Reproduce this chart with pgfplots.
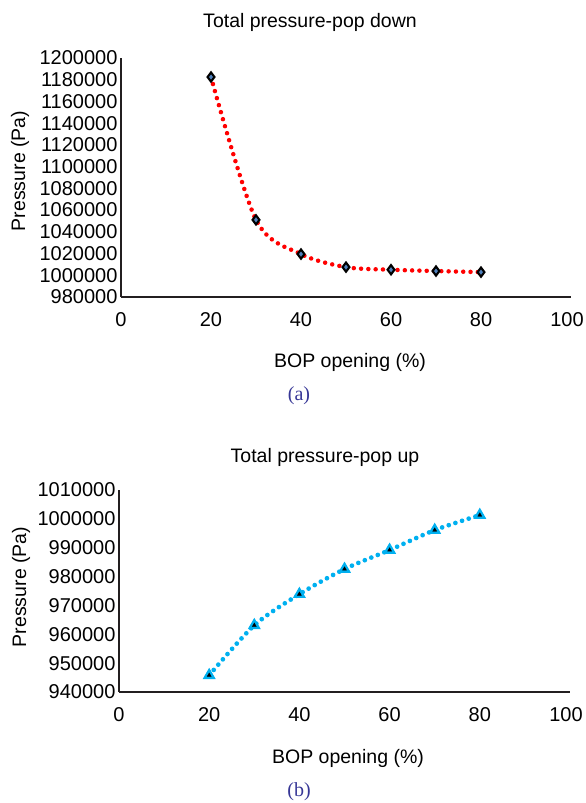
\documentclass[border=0pt]{standalone}
\usepackage{pgfplots}
\pgfplotsset{compat=1.18}
\usepackage{fontspec}
\setmainfont{Liberation Sans}
\newfontfamily\capfont{Liberation Serif}
\definecolor{redline}{RGB}{255,0,0}
\definecolor{blueline}{RGB}{0,176,240}
\definecolor{markfill}{RGB}{79,129,189}
\definecolor{axisc}{RGB}{35,31,32}
\definecolor{capc}{RGB}{55,55,150}
\newcommand{\lf}{\fontsize{19.5}{21}\selectfont}
\newcommand{\tf}{\fontsize{20}{21}\selectfont}
\begin{document}
\begin{tikzpicture}
\path[use as bounding box] (0pt,0pt) rectangle (586pt,-803pt);
\pgfplotsset{myaxis/.style={
  scale only axis, xmin=0, xmax=100, xtick={0,20,...,100},
  xticklabels={0,20,40,60,80,\kern-8pt 100},
  axis x line*=bottom, axis y line*=left,
  axis line style={axisc, line width=1.7pt, -},
  major tick length=0pt, tick style={draw=none},
  ticklabel style={font=\tf},
  /pgf/number format/assume math mode=true,
  yticklabel style={/pgf/number format/fixed, /pgf/number format/1000 sep={}},
  scaled y ticks=false,
  xticklabel style={yshift=-12pt},
  clip=false}}
% (a)
\begin{axis}[myaxis, at={(121pt,-297pt)}, anchor=south west,
  width=450pt, height=239pt, ymin=980000, ymax=1200000, ytick distance=20000]
\addplot[redline, line width=4.5pt, dash pattern=on 0pt off 7.3pt, line cap=round, smooth]
 coordinates {(20,1182500) (30,1051000) (40,1019500) (50,1007500) (60,1005100) (70,1003900) (80,1002900)};
\addplot[only marks, mark=diamond*, mark size=4.6pt, mark options={draw=black, fill=markfill, line width=2.1pt}]
 coordinates {(20,1182500) (30,1051000) (40,1019500) (50,1007500) (60,1005100) (70,1003900) (80,1002900)};
\end{axis}
% (b)
\begin{axis}[myaxis, at={(119pt,-692pt)}, anchor=south west,
  width=451pt, height=202pt, ymin=940000, ymax=1010000, ytick distance=10000]
\addplot[blueline, line width=4.7pt, dash pattern=on 0pt off 7pt, line cap=round, smooth]
 coordinates {(20,945800) (30,963100) (40,973900) (50,982600) (60,989200) (70,996100) (80,1001300)};
\addplot[only marks, mark=triangle*, mark size=6.5pt, mark options={draw=blueline, fill=blueline, line width=1pt}]
 coordinates {(20,945800) (30,963100) (40,973900) (50,982600) (60,989200) (70,996100) (80,1001300)};
\addplot[only marks, mark=triangle*, mark size=2.3pt, mark options={draw=black, fill=black}]
 coordinates {(20,945800) (30,963100) (40,973900) (50,982600) (60,989200) (70,996100) (80,1001300)};
\end{axis}
\node[font=\lf] at (310pt,-22pt) {Total pressure-pop down};
\node[font=\lf] at (325pt,-457pt) {Total pressure-pop up};
\node[font=\lf, rotate=90] at (20pt,-171pt) {Pressure (Pa)};
\node[font=\lf, rotate=90] at (21pt,-587pt) {Pressure (Pa)};
\node[font=\lf] at (350pt,-362pt) {BOP opening (\%)};
\node[font=\lf] at (348pt,-758pt) {BOP opening (\%)};
\node[font=\capfont\fontsize{20}{22}\selectfont, text=capc] at (299pt,-396pt) {(a)};
\node[font=\capfont\fontsize{20}{22}\selectfont, text=capc] at (299pt,-792pt) {(b)};
\end{tikzpicture}
\end{document}
